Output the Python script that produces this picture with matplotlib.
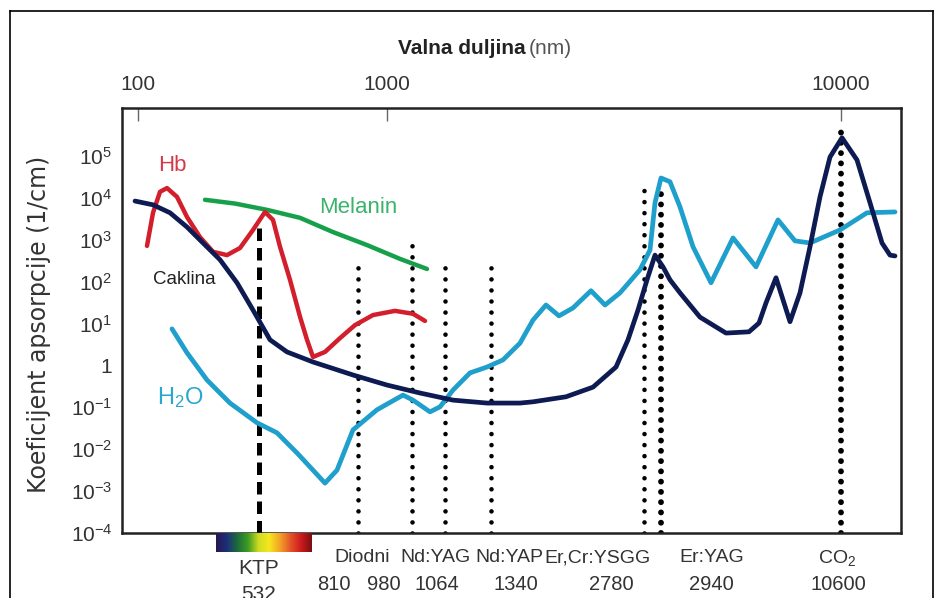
import matplotlib
matplotlib.use("Agg")
import matplotlib.pyplot as plt
from matplotlib.colors import LinearSegmentedColormap
from matplotlib.lines import Line2D
import matplotlib.transforms as mtransforms
import numpy as np

plt.rcParams['font.family'] = ['Liberation Sans', 'DejaVu Sans']
plt.rcParams['mathtext.fontset'] = 'custom'
plt.rcParams['mathtext.rm'] = 'Liberation Sans'
plt.rcParams['mathtext.it'] = 'Liberation Sans:italic'
plt.rcParams['mathtext.bf'] = 'Liberation Sans:bold'

# x os slike nije prava log skala -> vodoravni polozaj (0..1000 jedinica)
# gornje oznake valne duljine
top_pos = [138, 387, 841]
top_lbl = ['100', '1000', '10000']

# krivulje: polozaj, log10(koeficijent apsorpcije u 1/cm)
caklina_x = [135, 153, 170, 187, 203, 220, 237, 253, 270, 287, 313, 353, 387, 420, 453, 487,
             520, 533, 566, 593, 616, 628, 638, 647, 655, 663, 670, 680, 700, 726, 749, 759,
             766, 776, 790, 800, 810, 820, 830, 842, 857, 870, 882, 890, 895]
caklina_y = [3.92, 3.83, 3.64, 3.30, 2.92, 2.52, 1.97, 1.32, 0.61, 0.32, 0.08, -0.23, -0.47, -0.66, -0.83, -0.90,
             -0.90, -0.87, -0.75, -0.52, -0.04, 0.61, 1.32, 2.04, 2.63, 2.35, 2.04, 1.73, 1.15, 0.77, 0.80, 1.01,
             1.49, 2.09, 1.04, 1.73, 2.83, 4.02, 4.97, 5.43, 4.90, 3.88, 2.92, 2.63, 2.61]

hb_x = [147, 153, 160, 167, 177, 187, 200, 213, 227, 240, 253, 265, 273, 280, 290, 300,
        307, 313, 325, 340, 355, 373, 395, 413, 425]
hb_y = [2.85, 3.64, 4.14, 4.23, 4.02, 3.54, 3.06, 2.71, 2.63, 2.80, 3.23, 3.66, 3.47, 2.83, 2.04, 1.16,
        0.61, 0.20, 0.32, 0.65, 0.96, 1.20, 1.30, 1.23, 1.06]

melanin_x = [205, 235, 267, 300, 333, 367, 400, 427]
melanin_y = [3.95, 3.86, 3.71, 3.52, 3.18, 2.87, 2.54, 2.30]

h2o_x = [172, 187, 207, 230, 257, 277, 297, 313, 325, 337, 353, 377, 403, 413, 430, 440,
         453, 470, 487, 503, 520, 533, 546, 559, 573, 591, 605, 620, 640, 650, 655, 661,
         670, 680, 693, 711, 733, 756, 778, 795, 810, 840, 867, 895]
h2o_y = [0.87, 0.30, -0.35, -0.90, -1.37, -1.61, -2.09, -2.50, -2.81, -2.50, -1.54, -1.06, -0.71, -0.83, -1.11, -0.99,
         -0.59, -0.18, -0.04, 0.13, 0.53, 1.08, 1.44, 1.18, 1.37, 1.78, 1.44, 1.73, 2.28, 2.75, 3.88, 4.47,
         4.38, 3.78, 2.83, 1.97, 3.04, 2.35, 3.47, 2.97, 2.92, 3.23, 3.64, 3.66]

# laseri: polozaj linije, vrh linije (log10)
laser_pos = [259, 358, 412, 445, 491, 644, 661, 841]
laser_top = [3.28, 2.44, 3.00, 2.44, 2.44, 4.35, 4.23, 5.62]
laser_kind = ['dash', 'dot', 'dot', 'dot', 'dot', 'dot', 'bigdot', 'bigdot']

# natpisi ispod osi
name_lbl = ['Diodni', 'Nd:YAG', 'Nd:YAP', 'Er,Cr:YSGG', 'Er:YAG', 'CO$_2$']
name_pos = [362, 436, 509, 598, 712, 837]
num_lbl = ['810', '980', '1064', '1340', '2780', '2940', '10600']
num_pos = [334, 384, 437, 516, 611, 711, 838]

yticks = [-4, -3, -2, -1, 0, 1, 2, 3, 4, 5]

W, H = 936, 598
fig = plt.figure(figsize=(W / 100, H / 100), dpi=100)
L, R, T, B = 122, 901, 108, 533
ax = fig.add_axes([L / W, 1 - B / H, (R - L) / W, (B - T) / H])
ax.set_yscale('log')
ax.set_xlim(L, R)
ax.set_ylim(1e-4, 10 ** 6.14)

# laserske linije
for xp, top, kind in zip(laser_pos, laser_top, laser_kind):
    yy = [1e-4, 10 ** top]
    if kind == 'dash':
        ax.plot([xp, xp], yy, color='black', lw=3.6, linestyle=(0, (2.5, 1.4)), zorder=2)
    elif kind == 'dot':
        ax.plot([xp, xp], yy, color='black', lw=3.3, linestyle=(0, (0.01, 2.4)),
                dash_capstyle='round', zorder=2)
    else:
        ax.plot([xp, xp], yy, color='black', lw=4.2, linestyle=(0, (0.01, 1.75)),
                dash_capstyle='round', zorder=2)

ax.plot(melanin_x, 10 ** np.array(melanin_y), color='#17a04a', lw=3.2, solid_capstyle='round', zorder=3)
ax.plot(hb_x, 10 ** np.array(hb_y), color='#d21f2b', lw=3.2, solid_capstyle='round',
        solid_joinstyle='round', zorder=3)
ax.plot(h2o_x, 10 ** np.array(h2o_y), color='#1f9fcb', lw=3.4, solid_capstyle='round',
        solid_joinstyle='round', zorder=4)
ax.plot(caklina_x, 10 ** np.array(caklina_y), color='#0d1b52', lw=3.4, solid_capstyle='round',
        solid_joinstyle='round', zorder=5)

ax.text(172, 10 ** 4.76, 'Hb', color='#d23a48', fontsize=16, ha='center', va='center')
ax.text(358, 10 ** 3.76, 'Melanin', color='#3bb36a', fontsize=16, ha='center', va='center')
ax.text(184, 10 ** 2.06, 'Caklina', color='#222222', fontsize=13.5, ha='center', va='center')
ax.text(180, 10 ** -0.78, 'H$_2$O', color='#2aa7d1', fontsize=17, ha='center', va='center')

# osi
for s in ax.spines.values():
    s.set_linewidth(1.8)
    s.set_color('#222222')
ax.xaxis.tick_top()
ax.set_xticks(top_pos)
ax.set_xticklabels(top_lbl)
ax.tick_params(axis='x', direction='in', length=9, width=1, color='#666666',
               labelcolor='#333333', labelsize=15, pad=10)
ax.set_yticks([10.0 ** k for k in yticks])
ax.set_yticklabels(['1' if k == 0 else '$10^{%d}$' % k for k in yticks])
ax.yaxis.set_minor_locator(matplotlib.ticker.NullLocator())
ax.tick_params(axis='y', length=0, labelcolor='#333333', labelsize=15, pad=7)

ax.set_ylabel('Koeficijent apsorpcije (1/cm)', family=['DejaVu Sans'],
              fontsize=17, color='#333333')
ax.yaxis.set_label_coords(-0.091, 0.49)
fig.text(526 / W, 1 - 48 / H, 'Valna duljina', fontsize=15, fontweight='bold',
         color='#222222', ha='right', va='center')
fig.text(529 / W, 1 - 48 / H, '(nm)', fontsize=15, color='#555555', ha='left', va='center')

# natpisi lasera
trans = mtransforms.blended_transform_factory(ax.transData, ax.transAxes)
for lbl, xp in zip(name_lbl, name_pos):
    ax.text(xp, -25 / (B - T), lbl, transform=trans, ha='center', va='center',
            fontsize=14, color='#333333', clip_on=False)
for lbl, xp in zip(num_lbl, num_pos):
    ax.text(xp, -52 / (B - T), lbl, transform=trans, ha='center', va='center',
            fontsize=14.5, color='#333333', clip_on=False)
ax.text(259, -35 / (B - T), 'KTP', transform=trans, ha='center', va='center',
        fontsize=15, color='#333333', clip_on=False)
ax.text(259, -62 / (B - T), '532', transform=trans, ha='center', va='center',
        fontsize=15, color='#333333', clip_on=False)

# vidljivi spektar
spec = LinearSegmentedColormap.from_list('spec', ['#2a1550', '#1c2f7a', '#1d6b3c', '#3f9c22',
                                                  '#cfdc22', '#f6e61e', '#f2a226', '#e4542a',
                                                  '#cc1a1c', '#7a0f12'])
cax = fig.add_axes([216 / W, 1 - 552 / H, 95 / W, 19 / H])
cax.imshow(np.linspace(0, 1, 256)[None, :], aspect='auto', cmap=spec)
cax.set_axis_off()

# okvir
fig.add_artist(Line2D([10 / W, 10 / W], [0, 1 - 11 / H], color='black', lw=1.2))
fig.add_artist(Line2D([10 / W, 933 / W], [1 - 11 / H, 1 - 11 / H], color='black', lw=1.2))
fig.add_artist(Line2D([933 / W, 933 / W], [0, 1 - 11 / H], color='black', lw=1.2))

fig.savefig('out.png', dpi=100)
